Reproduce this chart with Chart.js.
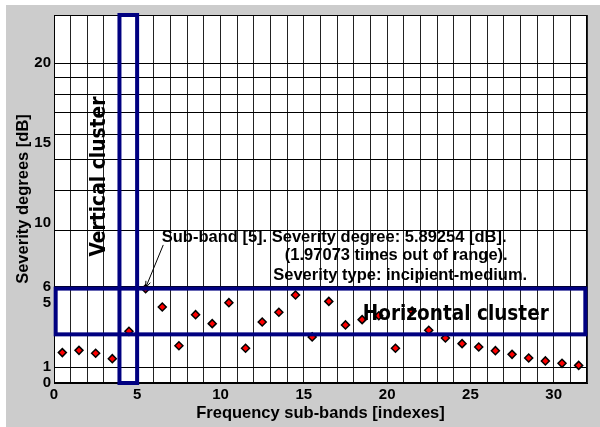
<!DOCTYPE html>
<html lang="en">
<head>
    <meta charset="UTF-8">
    <title>Severity degrees</title>
    <script src="https://cdn.jsdelivr.net/npm/chart.js@4.4.0/dist/chart.umd.min.js"></script>
    <style>
        body { margin: 0; background: #fff; }
    </style>
</head>
<body>
    <canvas id="myChart" width="600" height="427"></canvas>

    <script>
        // sub-band index (centre of each band) and severity in dB
        const subBands = [0.5,1.5,2.5,3.5,4.5,5.5,6.5,7.5,8.5,9.5,10.5,11.5,12.5,13.5,14.5,15.5,
                          16.5,17.5,18.5,19.5,20.5,21.5,22.5,23.5,24.5,25.5,26.5,27.5,28.5,29.5,30.5,31.5]
        const severity = [1.90,2.04,1.86,1.52,3.23,5.89,4.75,2.33,4.27,3.71,5.02,2.17,3.81,4.42,5.50,2.88,
                          5.10,3.63,3.96,4.20,2.17,4.50,3.30,2.81,2.46,2.25,2.02,1.79,1.56,1.38,1.23,1.10]

        const xLabelTicks = [0,5,10,15,20,25,30]
        const yLabelTicks = [0,1,5,6,10,15,20]
        const yGridLines = [1,6.02,9.54,12.04,13.98,15.56,16.90,18.06,19.08,20]

        const horizCluster = {x0: 0.1, x1: 31.9, y0: 3.04, y1: 5.9}
        const vertCluster = {x0: 3.93, x1: 4.99, y0: 0, y1: 23}

        const note = [
            'Sub-band [5]. Severity degree: 5.89254 [dB].',
            '(1.97073 times out of range).',
            'Severity type: incipient-medium.'
        ]

        const yAllTicks = [...new Set([...yLabelTicks, ...yGridLines])].sort((a, b) => a - b)
        const xAllTicks = []
        for (let i = 0; i <= 32; i++) xAllTicks.push(i)

        const FONT = '"Liberation Sans", Arial, sans-serif'

        const decor = {
            id: 'decor',
            beforeDraw(chart) {
                const c = chart.ctx, a = chart.chartArea
                c.save()
                c.fillStyle = '#fff'
                c.fillRect(0, 0, chart.width, chart.height)
                c.fillStyle = '#cccccc'
                c.fillRect(6, 5, chart.width - 6, chart.height - 5)
                c.fillStyle = '#fff'
                c.fillRect(a.left, a.top, a.right - a.left, a.bottom - a.top)
                c.restore()
            },
            afterDraw(chart) {
                const c = chart.ctx, a = chart.chartArea
                const xs = chart.scales.x, ys = chart.scales.y
                const px = v => xs.getPixelForValue(v)
                const py = v => ys.getPixelForValue(v)
                c.save()
                // plot frame
                c.strokeStyle = '#000'
                c.lineWidth = 1
                c.strokeRect(a.left + 0.5, a.top + 0.5, a.right - a.left - 1, a.bottom - a.top - 1)

                // annotation text and arrow
                c.fillStyle = '#000'
                c.font = 'bold 16.5px ' + FONT
                c.textAlign = 'left'
                c.textBaseline = 'alphabetic'
                c.fillText(note[0], px(6.47), py(8.83))
                c.fillText(note[1], px(13.86), py(7.69))
                c.fillText(note[2], px(13.16), py(6.44))

                const sx = px(6.56), sy = py(8.63)
                const ex = px(5.5), ey = py(5.95)
                c.beginPath()
                c.moveTo(sx, sy)
                c.lineTo(ex, ey)
                const ang = Math.atan2(ey - sy, ex - sx)
                c.moveTo(ex - 7 * Math.cos(ang - 0.35), ey - 7 * Math.sin(ang - 0.35))
                c.lineTo(ex, ey)
                c.lineTo(ex - 7 * Math.cos(ang + 0.35), ey - 7 * Math.sin(ang + 0.35))
                c.lineWidth = 1
                c.stroke()

                // cluster boxes
                c.strokeStyle = '#000080'
                c.lineWidth = 4
                c.strokeRect(px(horizCluster.x0), py(horizCluster.y1),
                    px(horizCluster.x1) - px(horizCluster.x0), py(horizCluster.y0) - py(horizCluster.y1))
                c.strokeRect(px(vertCluster.x0), py(vertCluster.y1),
                    px(vertCluster.x1) - px(vertCluster.x0), py(vertCluster.y0) - py(vertCluster.y1))

                // cluster labels
                c.fillStyle = '#000'
                c.font = 'bold 22px "DejaVu Sans", sans-serif'
                c.fillText('Horizontal cluster', px(18.54), py(3.94), 186)
                c.translate(px(3.06), py(7.9))
                c.rotate(-Math.PI / 2)
                c.font = 'bold 21px "DejaVu Sans", sans-serif'
                c.fillText('Vertical cluster', 0, 0, 160)
                c.restore()
            }
        }

        const ctx = document.getElementById('myChart').getContext('2d')
        const myChart = new Chart(ctx, {
            type: 'scatter',
            data: {
                datasets: [{
                    label: 'Severity',
                    data: subBands.map((x, i) => ({x: x, y: severity[i]})),
                    pointStyle: 'rectRot',
                    pointRadius: 4,
                    pointBackgroundColor: '#ff0000',
                    pointBorderColor: '#000',
                    pointBorderWidth: 1.5,
                    showLine: false
                }]
            },
            options: {
                responsive: false,
                animation: false,
                layout: { padding: { left: 0, top: 15, right: 13, bottom: 0 } },
                plugins: { legend: { display: false }, tooltip: { enabled: false } },
                scales: {
                    x: {
                        type: 'linear',
                        min: 0,
                        max: 32,
                        afterBuildTicks: s => { s.ticks = xAllTicks.map(v => ({value: v})) },
                        afterFit: s => { s.height = 44 },
                        ticks: {
                            autoSkip: false,
                            maxRotation: 0,
                            padding: 3,
                            color: '#000',
                            font: { family: FONT, size: 15, weight: 'bold' },
                            callback: v => xLabelTicks.includes(v) ? String(v) : ''
                        },
                        grid: { color: '#222', lineWidth: 1, drawTicks: false },
                        border: { display: true, color: '#000', width: 1 },
                        title: {
                            display: true,
                            text: 'Frequency sub-bands [indexes]',
                            color: '#000',
                            padding: { top: 0, bottom: 4 },
                            font: { family: FONT, size: 16.5, weight: 'bold' }
                        }
                    },
                    y: {
                        type: 'linear',
                        min: 0,
                        max: 23,
                        afterBuildTicks: s => { s.ticks = yAllTicks.map(v => ({value: v})) },
                        afterFit: s => { s.width = 54 },
                        ticks: {
                            autoSkip: false,
                            padding: 3,
                            color: '#000',
                            font: { family: FONT, size: 15, weight: 'bold' },
                            callback: v => yLabelTicks.includes(v) ? String(v) : ''
                        },
                        grid: {
                            color: c => yGridLines.includes(c.tick.value) ? '#000' : 'rgba(0,0,0,0)',
                            lineWidth: 1,
                            drawTicks: false
                        },
                        border: { display: true, color: '#000', width: 1 },
                        title: {
                            display: true,
                            text: 'Severity degrees [dB]',
                            color: '#000',
                            padding: { top: 14, bottom: 0 },
                            font: { family: FONT, size: 16.5, weight: 'bold' }
                        }
                    }
                }
            },
            plugins: [decor]
        })
    </script>
</body>
</html>
